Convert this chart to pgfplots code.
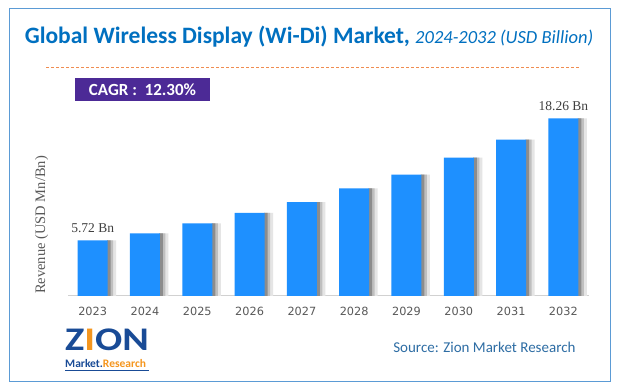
\documentclass[border=0pt]{standalone}
\usepackage{graphicx}
\usepackage{pgfplots}
\pgfplotsset{compat=1.18}
\usepackage{pgfplotstable}
\usepackage{fontspec}
\setmainfont{Carlito}
\newfontfamily\serifF{Liberation Serif}
\newfontfamily\tickF{DejaVu Sans}
\definecolor{barblue}{RGB}{30,144,255}
\definecolor{titleblue}{RGB}{0,112,192}
\definecolor{bordercol}{RGB}{91,155,213}
\definecolor{cagrpurple}{RGB}{76,42,150}
\definecolor{sourceblue}{RGB}{46,109,164}
\definecolor{tickgray}{RGB}{89,89,89}
\definecolor{dashorange}{RGB}{240,140,80}
\definecolor{zionblue}{RGB}{25,75,150}
\definecolor{zionorange}{RGB}{245,150,30}

\pgfplotstableread{
x v
0 5.72
1 6.44
2 7.46
3 8.55
4 9.64
5 11.06
6 12.48
7 14.22
8 16.08
9 18.26
}\datatable

\begin{document}
\begin{tikzpicture}[x=1pt,y=1pt]
\useasboundingbox (0,0) rectangle (617,390);
\fill[white] (0,0) rectangle (617,390);
\draw[bordercol, line width=1.2pt] (9.3,8.3) rectangle (610.5,381.7);

\begin{axis}[
  at={(68pt,94pt)}, anchor=south west,
  width=521pt, height=194.6pt, scale only axis,
  xmin=-0.472, xmax=9.49, ymin=0, ymax=20,
  axis x line*=bottom, axis y line=none,
  x axis line style={draw=black!18, line width=1pt},
  xtick={0,...,9},
  xticklabels={2023,2024,2025,2026,2027,2028,2029,2030,2031,2032},
  major tick length=0pt,
  xticklabel style={font=\tickF\fontsize{11.3}{13}\selectfont, text=tickgray, yshift=-7.5pt},
  ytick=\empty,
  clip=false,
  /pgf/number format/assume math mode=true,
]
% soft shadow to the right of each bar, in three strips
\addplot[ybar, bar width=9pt, bar shift=19pt, draw=none, fill=black!10]
  table[x=x,y=v]{\datatable};
\addplot[ybar, bar width=6pt, bar shift=17.5pt, draw=none, fill=black!25]
  table[x=x,y=v]{\datatable};
\addplot[ybar, bar width=3.5pt, bar shift=16.25pt, draw=none, fill=black!45]
  table[x=x,y=v]{\datatable};
\addplot[ybar, bar width=30pt, bar shift=0pt, fill=barblue, draw=none]
  table[x=x,y=v]{\datatable};
\addplot[draw=none, mark=none, point meta=explicit symbolic,
  nodes near coords,
  nodes near coords style={anchor=base, yshift=8pt, inner sep=0pt,
    font=\serifF\fontsize{13.5}{15}\selectfont, text=black!75}]
  coordinates {(0,5.72)[5.72 Bn] (9,18.26)[18.26 Bn]};
\end{axis}

\node[anchor=base, text=titleblue] at (309,346)
  {\fontsize{23.5}{27}\selectfont\bfseries Global Wireless Display (Wi-Di) Market, {\mdseries\itshape\fontsize{18.5}{22}\selectfont 2024-2032 (USD Billion)}};
\draw[dashorange, dash pattern=on 3pt off 2pt, line width=0.8pt] (46,322.3) -- (580,322.3);

\fill[cagrpurple] (75,289) rectangle (210,312);
\node[text=white] at (142.5,300.5) {\bfseries\fontsize{17}{20}\selectfont CAGR :\ \ 12.30\%};

\node[rotate=90, text=tickgray, font=\serifF\fontsize{14.5}{16}\selectfont] at (41.7,165) {Revenue (USD Mn/Bn)};

\node[anchor=base east, text=sourceblue, font=\fontsize{15}{18}\selectfont] at (579,37) {Source: Zion Market Research};

\node[anchor=base west, inner sep=0pt, text=zionblue] at (65,39)
  {\scalebox{1.22}[1]{\bfseries\fontsize{33}{33}\selectfont Z{\color{zionorange}I}ON}};
\node[anchor=base west, inner sep=0pt] at (65,22)
  {\bfseries\fontsize{11.5}{12}\selectfont\color{zionblue}Market.\color{zionorange}Research};
\draw[zionblue, line width=0.6pt] (65,19.5) -- (149,19.5);
\end{tikzpicture}
\end{document}
